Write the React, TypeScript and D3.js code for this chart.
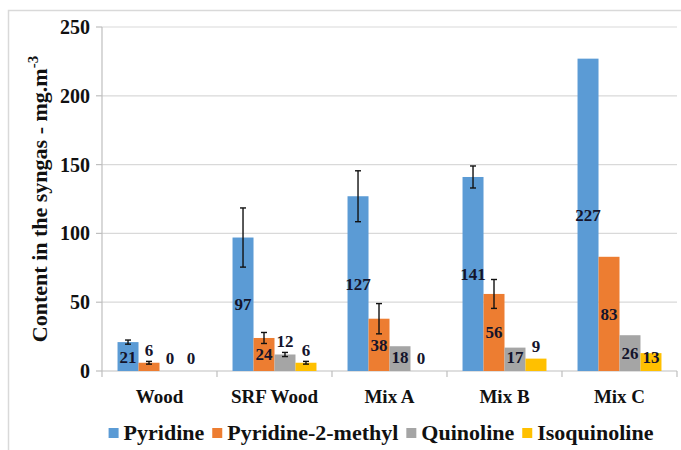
import React from 'react';
import * as d3 from 'd3';

// categories and series
const categories = ['Wood', 'SRF Wood', 'Mix A', 'Mix B', 'Mix C'];
const seriesNames = ['Pyridine', 'Pyridine-2-methyl', 'Quinoline', 'Isoquinoline'];
const seriesColors = ['#5B9BD5', '#ED7D31', '#A5A5A5', '#FFC000'];

// values per series (mg.m-3), one per category
const pyridine = [21, 97, 127, 141, 227];
const pyridine2methyl = [6, 24, 38, 56, 83];
const quinoline = [0, 12, 18, 17, 26];
const isoquinoline = [0, 6, 0, 9, 13];

// standard deviations (null = no error bar)
const pyridineErr = [1.5, 21.5, 18.5, 8, null];
const pyridine2methylErr = [1, 4, 11, 10.5, null];
const quinolineErr = [null, 1.5, null, null, null];
const isoquinolineErr = [null, 1, null, null, null];

const yTicks = [0, 50, 100, 150, 200, 250];

const W = 681, H = 450;
const FONT = 'Liberation Serif';
const left = 102, right = 677, top = 27, bottom = 371;

const txt = (size: number) => ({ fontFamily: FONT, fontWeight: 'bold' as const, fontSize: size });

function textWidth(s: string, size: number) {
  const ctx = document.createElement('canvas').getContext('2d');
  if (!ctx) return s.length * size * 0.5;
  ctx.font = `bold ${size}px "${FONT}"`;
  return ctx.measureText(s).width;
}

export default function App() {
  const allValues = [pyridine, pyridine2methyl, quinoline, isoquinoline];
  const allErrs = [pyridineErr, pyridine2methylErr, quinolineErr, isoquinolineErr];

  const x0 = d3.scaleBand().domain(categories).range([left, right]);
  const x1 = d3.scaleBand().domain(seriesNames).range([0, x0.bandwidth()]).paddingOuter(0.74);
  const y = d3.scaleLinear().domain([0, 250]).range([bottom, top]);
  const bw = x1.bandwidth();

  const rows = seriesNames.flatMap((s, si) => categories.map((c, ci) => ({
    key: `${s}-${c}`, si, v: allValues[si][ci], e: allErrs[si][ci],
    x: (x0(c) as number) + (x1(s) as number),
  })));

  // data labels: centred in the bar, small values sit just above the bar
  const labelY = (v: number) => (v <= 12 ? y(v) - 13 : Math.min(y(v / 2), y(0) - 14));

  // legend layout
  const legendSize = 22;
  const widths = seriesNames.map(s => textWidth(s, legendSize));
  const offsets: number[] = [];
  let acc = 0;
  widths.forEach(w => { offsets.push(acc); acc += 15 + w + 8; });
  const legendX = 381 - (acc - 8) / 2;

  const bounds = categories.map(c => x0(c) as number).concat([right]);
  const axisGrey = '#bfbfbf';

  return (
    <svg width={W} height={H} style={{ position: 'absolute', left: 0, top: 0, background: '#fff' }}>
      {/* outer frame */}
      <path d={`M8.5,${H} V10.5 H${W}`} fill="none" stroke="#d9d9d9" strokeWidth={1.5} />

      {/* gridlines */}
      {yTicks.filter(t => t > 0).map(t => (
        <line key={t} x1={left} x2={right} y1={y(t)} y2={y(t)} stroke="#d9d9d9" strokeWidth={1.2} />
      ))}

      {/* y axis */}
      <line x1={left} x2={left} y1={top} y2={bottom} stroke={axisGrey} strokeWidth={1.2} />
      {yTicks.map(t => (
        <line key={`t${t}`} x1={left - 6} x2={left} y1={y(t)} y2={y(t)} stroke={axisGrey} strokeWidth={1.2} />
      ))}
      {yTicks.map(t => (
        <text key={`y${t}`} x={left - 12} y={y(t) + 7} textAnchor="end" fill="#111" style={txt(20)}>{t}</text>
      ))}

      {/* x axis */}
      <line x1={left} x2={right} y1={bottom} y2={bottom} stroke={axisGrey} strokeWidth={1.2} />
      {bounds.map(b => (
        <line key={b} x1={b} x2={b} y1={bottom} y2={bottom + 6} stroke={axisGrey} strokeWidth={1.2} />
      ))}
      {categories.map(c => (
        <text key={c} x={(x0(c) as number) + x0.bandwidth() / 2} y={403} textAnchor="middle"
          fill="#111" style={txt(19)}>{c}</text>
      ))}

      {/* bars */}
      {rows.map(d => (
        <rect key={d.key} x={d.x} width={bw} y={y(d.v)} height={y(0) - y(d.v)} fill={seriesColors[d.si]} />
      ))}

      {/* error bars */}
      {rows.filter(d => d.e != null).map(d => {
        const cx = d.x + bw / 2;
        const hi = y(d.v + (d.e as number));
        const lo = y(d.v - (d.e as number));
        return (
          <g key={`e-${d.key}`} stroke="#111" strokeWidth={1.4}>
            <line x1={cx} x2={cx} y1={hi} y2={lo} />
            <line x1={cx - 3} x2={cx + 3} y1={hi} y2={hi} />
            <line x1={cx - 3} x2={cx + 3} y1={lo} y2={lo} />
          </g>
        );
      })}

      {/* data labels */}
      {rows.map(d => (
        <text key={`l-${d.key}`} x={d.x + bw / 2} y={labelY(d.v) + 6} textAnchor="middle"
          fill="#14142b" style={txt(17)}>{d.v}</text>
      ))}

      {/* y axis title */}
      <text transform={`translate(47,${(top + bottom) / 2}) rotate(-90)`} textAnchor="middle"
        fill="#111" style={txt(22)}>
        Content in the syngas - mg.m<tspan dy={-9} style={txt(15)}>-3</tspan>
      </text>

      {/* legend */}
      {seriesNames.map((s, i) => (
        <rect key={`r-${s}`} x={legendX + offsets[i]} y={428} width={10} height={10} fill={seriesColors[i]} />
      ))}
      {seriesNames.map((s, i) => (
        <text key={`t-${s}`} x={legendX + offsets[i] + 15} y={440} fill="#111" style={txt(legendSize)}>{s}</text>
      ))}
    </svg>
  );
}
